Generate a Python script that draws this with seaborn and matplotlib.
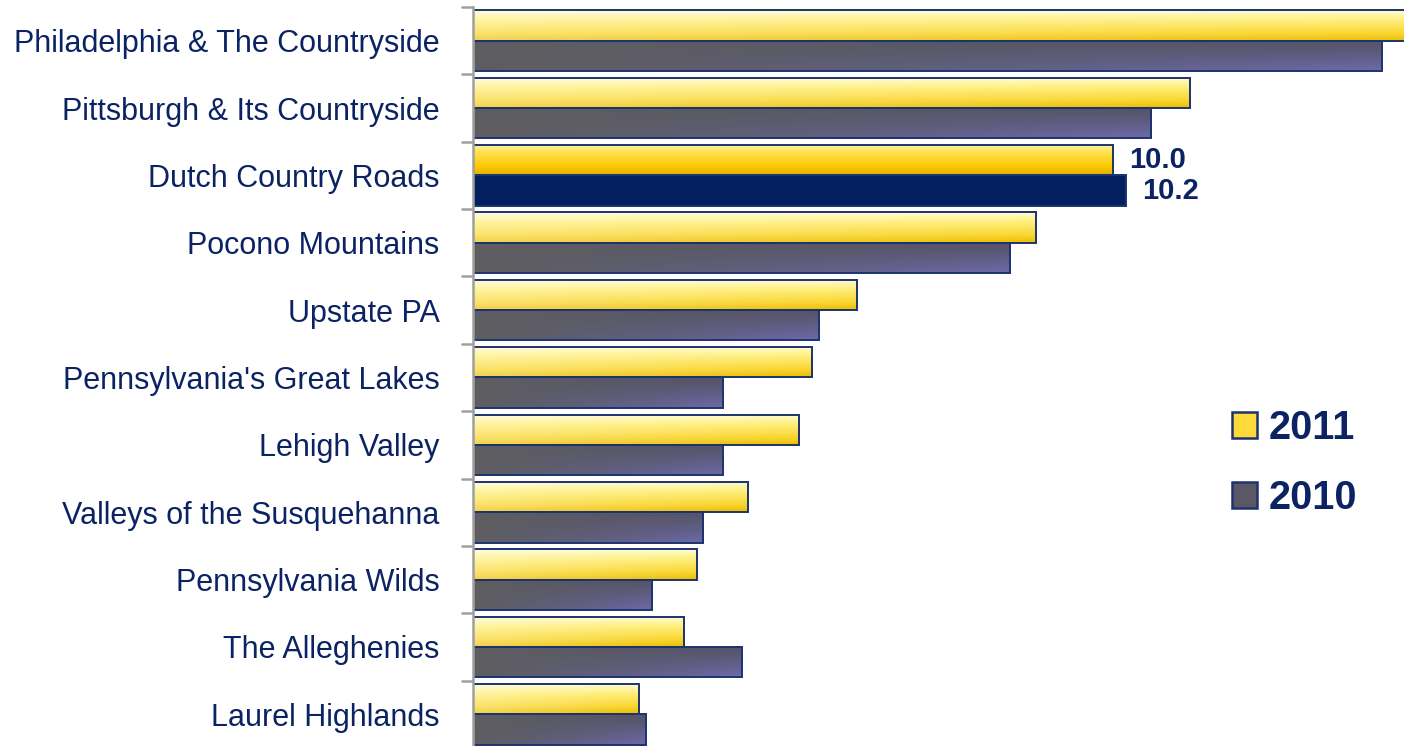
import numpy as np
import pandas as pd
import matplotlib
matplotlib.use("Agg")
import matplotlib.pyplot as plt
import seaborn as sns
from matplotlib import font_manager
from matplotlib.colors import to_rgb
from matplotlib.patches import Patch

# ---- data ----
regions = [
    "Philadelphia & The Countryside",
    "Pittsburgh & Its Countryside",
    "Dutch Country Roads",
    "Pocono Mountains",
    "Upstate PA",
    "Pennsylvania's Great Lakes",
    "Lehigh Valley",
    "Valleys of the Susquehanna",
    "Pennsylvania Wilds",
    "The Alleghenies",
    "Laurel Highlands",
]
years = ["2011", "2010"]
vals_2011 = [15.2, 11.2, 10.0, 8.8, 6.0, 5.3, 5.1, 4.3, 3.5, 3.3, 2.6]
vals_2010 = [14.2, 10.6, 10.2, 8.4, 5.4, 3.9, 3.9, 3.6, 2.8, 4.2, 2.7]
highlight = "Dutch Country Roads"

df = pd.DataFrame({
    "region": regions * 2,
    "year": ["2011"] * len(regions) + ["2010"] * len(regions),
    "value": vals_2011 + vals_2010,
})

NAVY = "#0B2363"
EDGE = "#1C3370"

names = {f.name for f in font_manager.fontManager.ttflist}
if "Liberation Sans Narrow" in names:
    label_font, label_size, leg_size = "Liberation Sans Narrow", 25.5, 31
else:
    label_font, label_size, leg_size = "Liberation Sans", 22, 28.5

sns.set_style("white")
plt.rcParams["font.family"] = ["Liberation Sans", "DejaVu Sans"]

fig = plt.figure(figsize=(14.04, 7.46), dpi=100)
ax = fig.add_axes([473 / 1404, -2 / 746, 1 - 473 / 1404, 741 / 746])

sns.barplot(data=df, y="region", x="value", hue="year", hue_order=years,
            order=regions, orient="h", width=0.9, legend=False, ax=ax,
            edgecolor=EDGE, linewidth=1.4, saturation=1)


def grad_yellow(h=40, w=120, strong=False):
    ty = np.linspace(0, 1, h)[:, None]
    tx = np.linspace(0, 1, w)[None, :]
    if strong:
        stops = [(0, "#FFF2A0"), (0.3, "#FFE04A"), (0.75, "#FAC800"), (1, "#E2AE00")]
    else:
        stops = [(0, "#FFFBD6"), (0.3, "#FFF07E"), (0.75, "#F9D630"), (1, "#EBBE00")]
    pos = [s[0] for s in stops]
    cols = np.array([to_rgb(s[1]) for s in stops])
    img = np.stack([np.interp(ty[:, 0], pos, cols[:, k]) for k in range(3)], axis=-1)
    img = np.repeat(img[:, None, :], w, axis=1)
    white = (1 - tx)[..., None] * (0.0 if strong else 0.3)
    img = img * (1 - white) + white
    return np.clip(img, 0, 1)


def grad_dark(h=40, w=120):
    ty = np.linspace(0, 1, h)[:, None]
    tx = np.linspace(0, 1, w)[None, :]
    gray = np.array(to_rgb("#5E5E61"))
    dark = np.array(to_rgb("#4E4E57"))
    purple = np.array(to_rgb("#6E6AAA"))
    wx = tx ** 1.1
    base = gray * (1 - wx[..., None]) + dark * wx[..., None]
    wp = (wx * (0.2 + 0.8 * ty ** 1.2))[..., None]
    return base * (1 - wp) + purple * wp


for year, cont in zip(years, ax.containers):
    for reg, bar in zip(regions, cont):
        x0, y0 = bar.get_x(), bar.get_y()
        x1, y1 = x0 + bar.get_width(), y0 + bar.get_height()
        if year == "2010" and reg == highlight:
            bar.set_facecolor("#022060")
            continue
        if year == "2011":
            img = grad_yellow(strong=(reg == highlight))
        else:
            img = grad_dark()
        bar.set_facecolor("none")
        im = ax.imshow(img, extent=(x0, x1, max(y0, y1), min(y0, y1)),
                       origin="upper", aspect="auto", interpolation="bilinear",
                       zorder=bar.get_zorder() - 0.1)
        im.set_clip_path(bar)

# value labels on the highlighted region
hi = regions.index(highlight)
ax.text(vals_2011[hi] + 0.26, hi - 0.225, f"{vals_2011[hi]:.1f}", va="center",
        ha="left", fontsize=21, fontweight="bold", color=NAVY)
ax.text(vals_2010[hi] + 0.26, hi + 0.225, f"{vals_2010[hi]:.1f}", va="center",
        ha="left", fontsize=21, fontweight="bold", color=NAVY)

ax.set_xlim(0, 14.55)
ax.set_ylim(len(regions) - 0.5, -0.5)
ax.set_xlabel("")
ax.set_ylabel("")
ax.set_xticks([])
for s in ["top", "right", "bottom"]:
    ax.spines[s].set_visible(False)
ax.spines["left"].set_color("#A0A0A0")
ax.spines["left"].set_linewidth(1.8)
ax.spines["left"].set_zorder(5)

ax.set_yticks(range(len(regions)))
ax.set_yticklabels(regions, fontfamily=label_font, fontsize=label_size, color=NAVY)
ax.tick_params(axis="y", which="major", length=0, pad=24)
ax.set_yticks(np.arange(-0.5, len(regions), 1), minor=True)
ax.tick_params(axis="y", which="minor", length=9, width=1.8, color="#A0A0A0",
               left=True)

handles = [
    Patch(facecolor="#FDDA3A", edgecolor=EDGE, linewidth=1.8, label="2011"),
    Patch(facecolor="#5A5864", edgecolor=EDGE, linewidth=1.8, label="2010"),
]
fig.legend(handles=handles, loc="center left", bbox_to_anchor=(1212 / 1404, 1 - 463 / 746),
           frameon=False, prop={"family": label_font, "weight": "bold", "size": leg_size},
           labelcolor=NAVY, handlelength=0.64, handleheight=0.64, handletextpad=0.3,
           labelspacing=0.8, borderpad=0)

fig.savefig("out.png", dpi=100)
